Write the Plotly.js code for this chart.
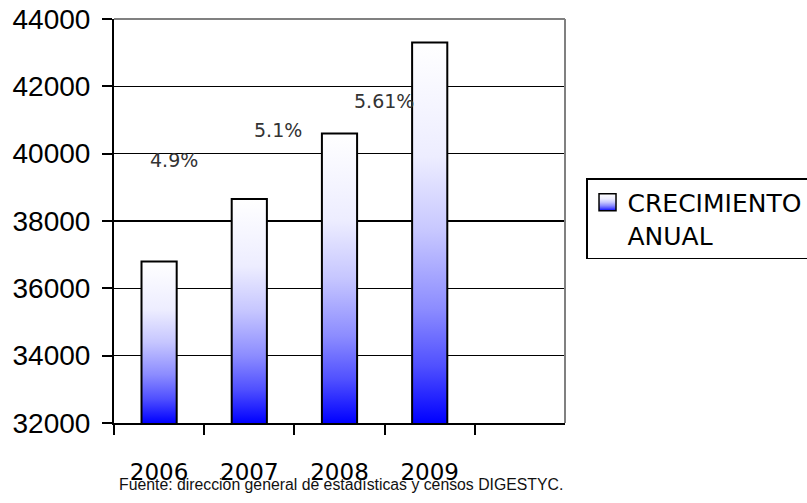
<!DOCTYPE html>
<html>
<head>
<meta charset="utf-8">
<script src="https://cdn.plot.ly/plotly-3.0.1.min.js"></script>
<style>
  html, body { margin: 0; padding: 0; background: #fff; }
  #chart { width: 807px; height: 503px; }
</style>
</head>
<body>
<div id="chart"></div>
<script>
// ---- data ----
const years = ['2006', '2007', '2008', '2009'];
const values = [36800, 38650, 40600, 43300];
const growthLabels = ['4.9%', '5.1%', '5.61%'];
const seriesName = 'CRECIMIENTO<br>ANUAL';
const sourceNote = 'Fuente: dirección general de estadísticas y censos DIGESTYC.';
const yTicks = [32000, 34000, 36000, 38000, 40000, 42000, 44000];

// ---- label placement (layout only) ----
const growthLabelX = [0.165, 1.318, 2.49];
const growthLabelY = [39800, 40700, 41560];

const NARROW = 'Liberation Sans, Arial, sans-serif';
const SANS = 'DejaVu Sans, Verdana, sans-serif';

const trace = {
  type: 'bar',
  x: years,
  y: values,
  name: seriesName,
  width: 0.39,
  marker: { color: '#8c8cff', line: { color: '#000', width: 2 } },
  showlegend: true,
  hoverinfo: 'skip'
};

const annotations = growthLabels.map((t, i) => ({
  x: growthLabelX[i], y: growthLabelY[i], xref: 'x', yref: 'y',
  text: t, showarrow: false, xanchor: 'center', yanchor: 'middle',
  font: { family: SANS, size: 19, color: '#333' }
}));
annotations.push({
  xref: 'paper', yref: 'paper', x: 0.007, y: -0.153,
  xanchor: 'left', yanchor: 'middle', showarrow: false,
  text: sourceNote,
  font: { family: NARROW, size: 15.8, color: '#111' }
});

const layout = {
  width: 807, height: 503,
  margin: { l: 114, r: 242, t: 19, b: 80, autoexpand: false },
  paper_bgcolor: '#fff', plot_bgcolor: '#fff',
  xaxis: {
    type: 'category', range: [-0.5, 4.5],
    tickson: 'boundaries', ticks: 'outside', ticklen: 10, tickwidth: 2, tickcolor: '#000',
    showline: true, linecolor: '#000', linewidth: 2, showgrid: false, zeroline: false,
    ticklabelstandoff: 27,
    tickfont: { family: SANS, size: 23, color: '#000' },
    fixedrange: true
  },
  yaxis: {
    range: [32000, 44000], tickvals: yTicks, ticktext: yTicks.map(String),
    ticks: 'outside', ticklen: 10, tickwidth: 2, tickcolor: '#000',
    showline: true, linecolor: '#000', linewidth: 2,
    showgrid: true, gridcolor: '#000', gridwidth: 1.5, zeroline: false,
    ticklabelstandoff: 6,
    tickfont: { family: NARROW, size: 28, color: '#000' },
    fixedrange: true
  },
  legend: {
    x: 1.0466, y: 0.6064, xref: 'paper', yref: 'paper', xanchor: 'left', yanchor: 'top',
    bordercolor: '#000', borderwidth: 1.5, bgcolor: '#fff',
    valign: 'top', entrywidth: 200,
    font: { family: SANS, size: 25, color: '#000' }
  },
  shapes: [
    { type: 'line', xref: 'paper', yref: 'paper', x0: 0, x1: 1, y0: 1, y1: 1,
      line: { color: '#808080', width: 2 } },
    { type: 'line', xref: 'paper', yref: 'paper', x0: 1, x1: 1, y0: 0, y1: 1,
      line: { color: '#808080', width: 2 } }
  ],
  annotations: annotations
};

const STOPS = [[0, '#ffffff'], [0.3, '#ededff'], [0.5, '#c6c6ff'], [0.7, '#8c8cff'], [0.85, '#5050ff'], [1, '#0000ff']];

function makeGrad(defs, id, attrs) {
  const svgNS = 'http://www.w3.org/2000/svg';
  const g = document.createElementNS(svgNS, 'linearGradient');
  g.setAttribute('id', id);
  Object.keys(attrs).forEach(k => g.setAttribute(k, attrs[k]));
  STOPS.forEach(([o, c]) => {
    const s = document.createElementNS(svgNS, 'stop');
    s.setAttribute('offset', o); s.setAttribute('stop-color', c);
    g.appendChild(s);
  });
  defs.appendChild(g);
}

Plotly.newPlot('chart', [trace], layout, { displayModeBar: false, staticPlot: true }).then(gd => {
  const svgNS = 'http://www.w3.org/2000/svg';
  const svg = gd.querySelector('svg.main-svg');
  let defs = svg.querySelector('defs');
  if (!defs) { defs = document.createElementNS(svgNS, 'defs'); svg.insertBefore(defs, svg.firstChild); }
  const ya = gd._fullLayout.yaxis;
  const bottomPx = ya.c2p(ya.range[0]);
  gd.querySelectorAll('.trace.bars .point path').forEach((p, i) => {
    const bb = p.getBBox();
    const id = 'barGrad' + i;
    makeGrad(defs, id, { gradientUnits: 'userSpaceOnUse', x1: 0, x2: 0, y1: bb.y, y2: bottomPx });
    p.style.fill = 'url(#' + id + ')';
  });
  makeGrad(defs, 'legGrad', { x1: 0, y1: 0, x2: 0, y2: 1 });
  gd.querySelectorAll('.legendpoints path').forEach(p => {
    p.setAttribute('d', 'M8.5,8.5H-8.5V-8.5H8.5Z');
    p.style.fill = 'url(#legGrad)';
    p.style.stroke = '#000';
    p.style.strokeWidth = '1.5px';
  });
});
</script>
</body>
</html>
